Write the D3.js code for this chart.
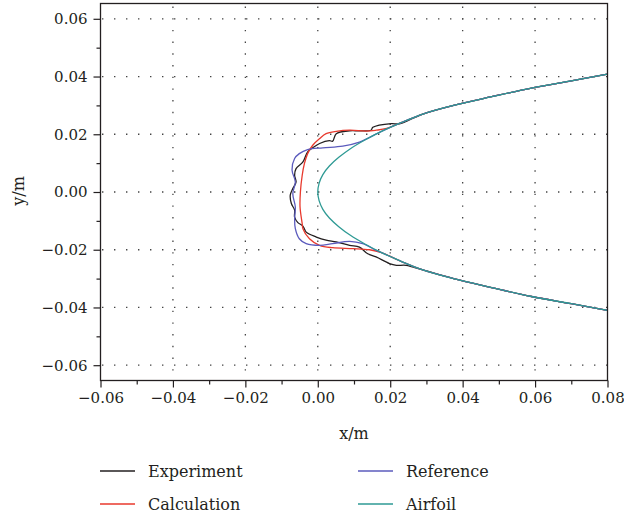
<!DOCTYPE html>
<html><head><meta charset="utf-8">
<script src="https://cdn.jsdelivr.net/npm/d3@7"></script>
<style>
html,body{margin:0;padding:0;background:#fff;}
svg text{font-family:"DejaVu Serif",serif;fill:#231f20;}
</style></head>
<body><svg id="c" width="624" height="518"></svg>
<script>
// ---- data (x, y in metres) ----
const seriesNames = ["Experiment", "Calculation", "Reference", "Airfoil"];
const seriesColors = ["#231f20", "#e8392d", "#5b5bbd", "#2e9a94"];

const airfoilX = [0.080,0.070,0.059,0.048,0.0375,0.029,0.023,0.0176,0.013,0.009,0.0058,0.0032,0.0014,0.00036,0.000,0.00036,0.0014,0.0032,0.0058,0.009,0.013,0.0176,0.023,0.029,0.0375,0.048,0.059,0.070,0.080];
const airfoilY = [0.0408,0.0385,0.0360,0.0330,0.0300,0.0270,0.0240,0.0210,0.0180,0.0150,0.0120,0.0090,0.0060,0.0030,0.000,-0.0030,-0.0060,-0.0090,-0.0120,-0.0150,-0.0180,-0.0210,-0.0240,-0.0270,-0.0300,-0.0331,-0.0362,-0.0387,-0.0410];

const experimentX = [0.080,0.070,0.059,0.048,0.0375,0.029,0.0225,0.0203,0.0152,0.0147,0.0115,0.0088,0.0051,0.0041,0.0032,0.0005,-0.0014,-0.0028,-0.0041,-0.0060,-0.0064,-0.0060,-0.0069,-0.0076,-0.0073,-0.0064,-0.0064,-0.0055,-0.0041,-0.0032,-0.0004,0.0023,0.0051,0.0088,0.0115,0.0138,0.0161,0.0198,0.0217,0.0244,0.029,0.0375,0.048,0.059,0.070,0.080];
const experimentY = [0.0408,0.0385,0.0360,0.0330,0.0300,0.0270,0.0236,0.0237,0.0224,0.0214,0.0212,0.0212,0.0202,0.0176,0.0178,0.0168,0.0153,0.0139,0.0104,0.0081,0.0058,0.0035,0.0012,-0.0011,-0.0040,-0.0063,-0.0087,-0.0106,-0.0118,-0.0139,-0.0156,-0.0167,-0.0173,-0.0185,-0.0191,-0.0214,-0.0225,-0.0248,-0.0254,-0.0254,-0.0270,-0.0300,-0.0331,-0.0362,-0.0387,-0.0410];

const calculationX = [0.080,0.070,0.059,0.048,0.0375,0.029,0.023,0.0190,0.0161,0.0134,0.0088,0.0051,0.0023,0.0005,-0.0014,-0.0028,-0.0037,-0.0043,-0.0048,-0.0049,-0.0043,-0.0041,-0.0023,0.0005,0.0041,0.0097,0.0143,0.0176,0.023,0.029,0.0375,0.048,0.059,0.070,0.080];
const calculationY = [0.0408,0.0385,0.0360,0.0330,0.0300,0.0270,0.0240,0.0220,0.0214,0.0211,0.0214,0.0210,0.0202,0.0185,0.0162,0.0133,0.0098,0.0058,0.0000,-0.0052,-0.0110,-0.0127,-0.0162,-0.0185,-0.0193,-0.0196,-0.0200,-0.0210,-0.0240,-0.0270,-0.0300,-0.0331,-0.0362,-0.0387,-0.0410];

const referenceX = [0.080,0.070,0.059,0.048,0.0375,0.029,0.023,0.0176,0.0115,0.0069,0.0014,-0.0028,-0.0051,-0.0064,-0.0071,-0.0062,-0.0069,-0.0062,-0.0064,-0.0062,-0.0051,-0.0032,0.0005,0.0041,0.0088,0.0124,0.0161,0.0176,0.023,0.029,0.0375,0.048,0.059,0.070,0.080];
const referenceY = [0.0408,0.0385,0.0360,0.0330,0.0300,0.0270,0.0240,0.0210,0.0173,0.0159,0.0153,0.0147,0.0133,0.0116,0.0075,0.0035,-0.0006,-0.0052,-0.0092,-0.0127,-0.0162,-0.0179,-0.0185,-0.0179,-0.0171,-0.0179,-0.0202,-0.0210,-0.0240,-0.0270,-0.0300,-0.0331,-0.0362,-0.0387,-0.0410];

const xTicks = [-0.06,-0.04,-0.02,0.00,0.02,0.04,0.06,0.08];
const yTicks = [-0.06,-0.04,-0.02,0.00,0.02,0.04,0.06];
const xMinor = [-0.05,-0.03,-0.01,0.01,0.03,0.05,0.07];
const yMinor = [-0.05,-0.03,-0.01,0.01,0.03,0.05];

// ---- layout ----
const L = 100.5, R = 607.5, T = 3.5, B = 380.5;
const svg = d3.select("#c");
const x = d3.scaleLinear().domain([-0.06, 0.08]).range([L, R]);
const y = d3.scaleLinear().domain([-0.0653, 0.0653]).range([B, T]);
const fmt = d3.format(".2f");

// grid
const g = svg.append("g");
g.selectAll("line.vg").data(xTicks.slice(1, -1)).join("line")
  .attr("x1", d => x(d)).attr("x2", d => x(d)).attr("y1", T + 3).attr("y2", B)
  .attr("stroke", "#444").attr("stroke-width", 1.3).attr("stroke-dasharray", "1.4,10.3");
g.selectAll("line.hg").data(yTicks).join("line")
  .attr("x1", L + 1.5).attr("x2", R).attr("y1", d => y(d)).attr("y2", d => y(d))
  .attr("stroke", "#444").attr("stroke-width", 1.3).attr("stroke-dasharray", "1.4,10.6");

// series
const seriesData = [
  [experimentX, experimentY, d3.curveCatmullRom.alpha(0.5)],
  [calculationX, calculationY, d3.curveCatmullRom.alpha(0.5)],
  [referenceX, referenceY, d3.curveCatmullRom.alpha(0.5)],
  [airfoilX, airfoilY, d3.curveNatural]
];
const plot = svg.append("g");
seriesData.forEach((s, i) => {
  const pts = s[0].map((v, k) => [v, s[1][k]]);
  const line = d3.line().x(d => x(d[0])).y(d => y(d[1])).curve(s[2]);
  plot.append("path").datum(pts).attr("d", line)
    .attr("fill", "none").attr("stroke", seriesColors[i]).attr("stroke-width", 1.3)
    .attr("stroke-linejoin", "round");
});

// axes
const xAxis = d3.axisBottom(x).tickValues(xTicks).tickFormat(fmt).tickSize(7).tickPadding(5);
const yAxis = d3.axisLeft(y).tickValues(yTicks).tickFormat(fmt).tickSize(7).tickPadding(6);
const gx = svg.append("g").attr("transform", `translate(0,${B})`).call(xAxis);
const gy = svg.append("g").attr("transform", `translate(${L},0)`).call(yAxis);
[gx, gy].forEach(a => {
  a.select(".domain").remove();
  a.selectAll("line").attr("stroke", "#231f20").attr("stroke-width", 1.2);
  a.selectAll("text").style("font-size", "15px").attr("fill", "#231f20");
});
svg.append("g").attr("transform", `translate(0,${B})`)
  .call(d3.axisBottom(x).tickValues(xMinor).tickFormat("").tickSize(4))
  .call(a => { a.select(".domain").remove(); a.selectAll("line").attr("stroke", "#231f20").attr("stroke-width", 1.2); });
svg.append("g").attr("transform", `translate(${L},0)`)
  .call(d3.axisLeft(y).tickValues(yMinor).tickFormat("").tickSize(4))
  .call(a => { a.select(".domain").remove(); a.selectAll("line").attr("stroke", "#231f20").attr("stroke-width", 1.2); });

// frame
svg.append("rect").attr("x", L).attr("y", T).attr("width", R - L).attr("height", B - T)
  .attr("fill", "none").attr("stroke", "#231f20").attr("stroke-width", 1.3);

// axis titles
svg.append("text").attr("x", (L + R) / 2).attr("y", 439).attr("text-anchor", "middle")
  .style("font-size", "16px").text("x/m");
svg.append("text").attr("transform", "translate(24,191) rotate(-90)").attr("text-anchor", "middle")
  .style("font-size", "16px").text("y/m");

// legend
const legPos = [[100, 471], [100, 504], [358, 471], [358, 504]];
seriesNames.forEach((n, i) => {
  const [lx, ly] = legPos[i];
  svg.append("line").attr("x1", lx).attr("x2", lx + 35).attr("y1", ly).attr("y2", ly)
    .attr("stroke", seriesColors[i]).attr("stroke-width", 1.3);
  svg.append("text").attr("x", lx + 48).attr("y", ly + 6).style("font-size", "16px").text(n);
});
</script></body></html>
